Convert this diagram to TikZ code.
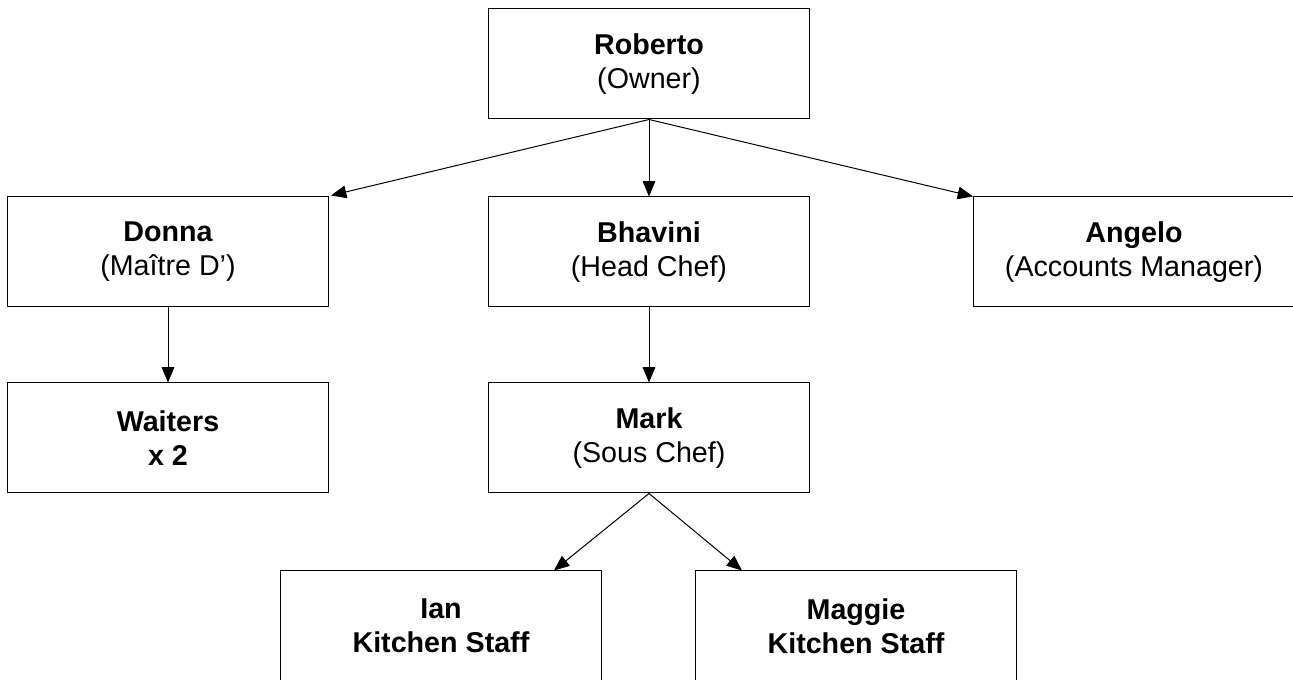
\documentclass[tikz,border=0pt]{standalone}
\usepackage{fontspec}
\setmainfont{Liberation Sans}
\usetikzlibrary{arrows.meta,calc}
\begin{document}
\begin{tikzpicture}[x=0.75pt,y=-0.75pt,
  box/.style={draw=black,line width=0.75pt,minimum width=321*0.75pt,minimum height=110*0.75pt,
    inner sep=0pt,align=center,font=\fontsize{21.5pt}{25.5pt}\selectfont},
  link/.style={line width=0.75pt,-{Triangle[length=11.5pt,width=9.5pt]}}]
\useasboundingbox (0,0) rectangle (1293,680);
\node[box] (roberto) at (649,64) {\textbf{Roberto}\\(Owner)};
\node[box] (donna) at (168,252) {\textbf{Donna}\\(Maître D’)};
\node[box] (bhavini) at (649,252) {\textbf{Bhavini}\\(Head Chef)};
\node[box] (angelo) at (1134,252) {\textbf{Angelo}\\(Accounts Manager)};
\node[box] (waiters) at (168,438) {\textbf{Waiters}\\\textbf{x 2}};
\node[box] (mark) at (649,438) {\textbf{Mark}\\(Sous Chef)};
\node[box] (ian) at (441,626) {\textbf{Ian}\\\textbf{Kitchen Staff}};
\node[box] (maggie) at (856,626) {\textbf{Maggie}\\\textbf{Kitchen Staff}};
\draw[link] (roberto.south) -- ($(donna.north east)+(2,-1)$);
\draw[link] (roberto.south) -- (bhavini.north);
\draw[link] (roberto.south) -- (angelo.north west);
\draw[link] (donna.south) -- (waiters.north);
\draw[link] (bhavini.south) -- (mark.north);
\draw[link] (mark.south) -- ($(ian.north east)+(-48,0)$);
\draw[link] (mark.south) -- ($(maggie.north west)+(47,0)$);
\end{tikzpicture}
\end{document}
